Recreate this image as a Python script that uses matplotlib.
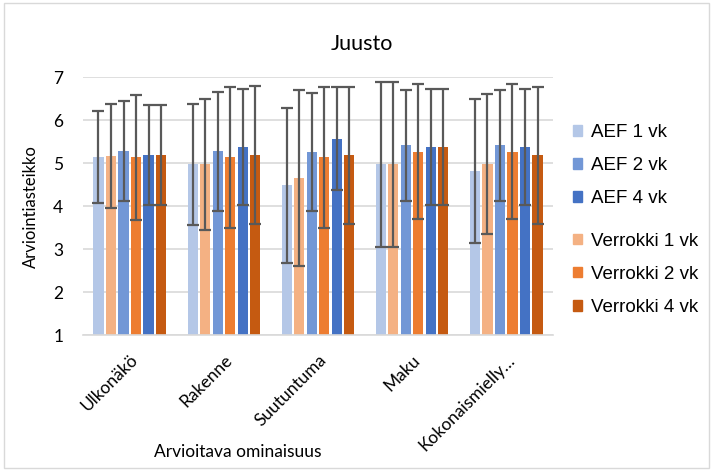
import matplotlib
matplotlib.use("Agg")
import matplotlib.pyplot as plt
import numpy as np
from matplotlib.patches import Rectangle, Patch

categories = ["Ulkonäkö", "Rakenne", "Suutuntuma", "Maku", "Kokonaismielly…"]
series = ["AEF 1 vk", "Verrokki 1 vk", "AEF 2 vk", "Verrokki 2 vk", "AEF 4 vk", "Verrokki 4 vk"]
colors = ["#B4C7E7", "#F4B183", "#7297D6", "#ED7D31", "#4472C4", "#C55A11"]

aef1 = [5.15, 4.97, 4.48, 4.97, 4.82]
ver1 = [5.16, 4.97, 4.65, 4.97, 4.97]
aef2 = [5.29, 5.27, 5.26, 5.41, 5.41]
ver2 = [5.13, 5.13, 5.13, 5.26, 5.26]
aef4 = [5.19, 5.38, 5.57, 5.38, 5.38]
ver4 = [5.19, 5.19, 5.18, 5.38, 5.18]

aef1_err = [1.07, 1.41, 1.80, 1.91, 1.67]
ver1_err = [1.21, 1.52, 2.04, 1.91, 1.63]
aef2_err = [1.16, 1.38, 1.38, 1.29, 1.29]
ver2_err = [1.45, 1.64, 1.64, 1.57, 1.57]
aef4_err = [1.17, 1.35, 1.19, 1.35, 1.35]
ver4_err = [1.17, 1.60, 1.60, 1.35, 1.60]

values = [aef1, ver1, aef2, ver2, aef4, ver4]
errors = [aef1_err, ver1_err, aef2_err, ver2_err, aef4_err, ver4_err]

fig = plt.figure(figsize=(7.13, 4.70), dpi=100)
ax = fig.add_axes([0.116, 0.287, 0.66, 0.549])

x = np.arange(len(categories))
slot = 0.133
bw = 0.108
for i, (v, e, c) in enumerate(zip(values, errors, colors)):
    pos = x + (i - 2.5) * slot
    ax.bar(pos, np.array(v) - 1, bottom=1, width=bw, color=c, zorder=2)
    ax.errorbar(pos, v, yerr=e, fmt="none", ecolor="#595959", elinewidth=1.6,
                capsize=4.5, capthick=1.6, zorder=3)

ax.set_ylim(1, 7)
ax.set_xlim(-0.5, len(categories) - 0.5)
ax.set_yticks(range(1, 8))
ax.yaxis.grid(True, color="#D9D9D9", linewidth=1.2, zorder=0)
ax.set_axisbelow(True)
for s in ["top", "right", "left"]:
    ax.spines[s].set_visible(False)
ax.spines["bottom"].set_color("#D9D9D9")
ax.spines["bottom"].set_linewidth(1.2)
ax.tick_params(axis="both", length=0)
ax.tick_params(axis="y", pad=14, labelsize=12.5)
ax.tick_params(axis="x", pad=12)
ax.set_xticks(x)
ax.set_xticklabels(categories, rotation=45, ha="right", rotation_mode="anchor",
                   fontsize=12.5, family="Lato")
for lbl in ax.get_yticklabels():
    lbl.set_family("Lato")

fig.text(0.508, 0.906, "Juusto", ha="center", va="center", fontsize=15.5, family="Lato")
fig.text(0.333, 0.038, "Arvioitava ominaisuus", ha="center", va="center", fontsize=12.5, family="Lato")
fig.text(0.043, 0.56, "Arviointiasteikko", ha="center", va="center", rotation=90,
         fontsize=12, family="Lato")

h1 = [Patch(color=colors[i]) for i in (0, 2, 4)]
l1 = [series[i] for i in (0, 2, 4)]
h2 = [Patch(color=colors[i]) for i in (1, 3, 5)]
l2 = [series[i] for i in (1, 3, 5)]
common = dict(frameon=False, handlelength=0.5, handleheight=0.5, handletextpad=0.45,
              labelspacing=0.86, borderaxespad=0.0,
              prop={"family": "Liberation Sans", "size": 13.5})
fig.legend(h1, l1, loc="upper left", bbox_to_anchor=(0.793, 0.752), **common)
fig.legend(h2, l2, loc="upper left", bbox_to_anchor=(0.793, 0.521), **common)

fig.patches.append(Rectangle((0.006, 0.004), 0.988, 0.99, transform=fig.transFigure,
                             fill=False, edgecolor="#D9D9D9", linewidth=1.0))

fig.savefig("out.png", dpi=100)
